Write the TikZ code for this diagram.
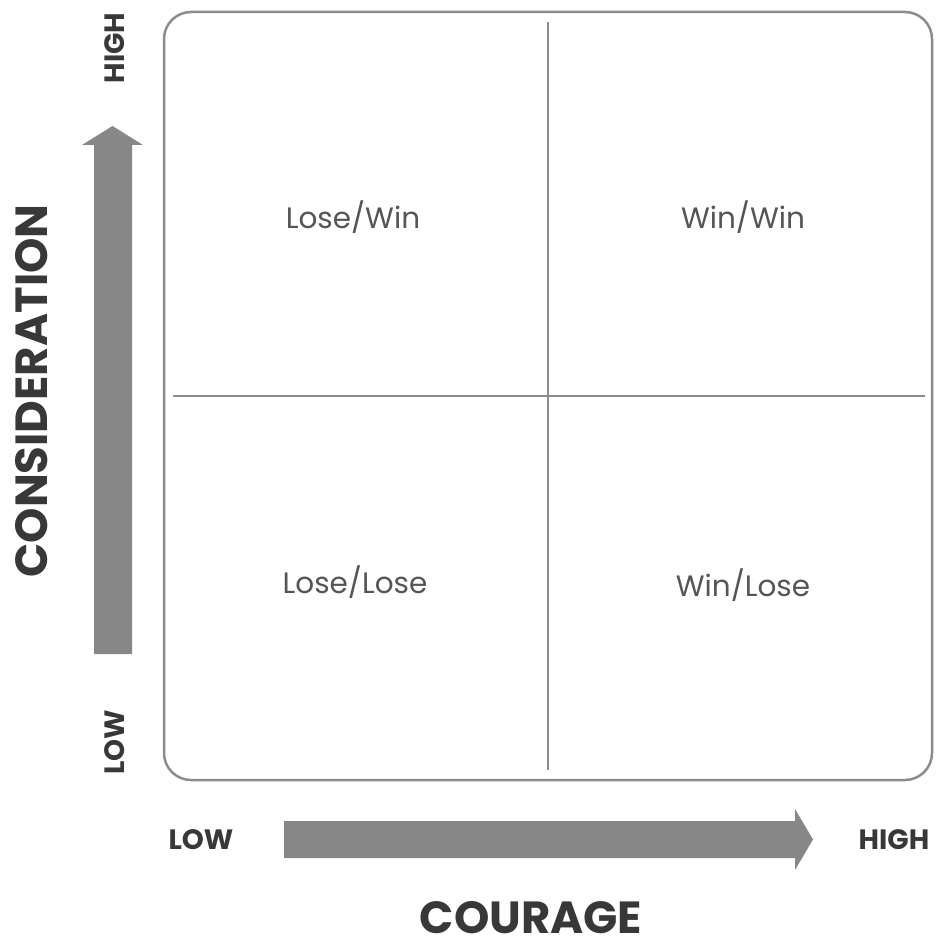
\documentclass[tikz,border=0pt]{standalone}
\usepackage{fontspec}
\setmainfont{Poppins}
\definecolor{linegray}{HTML}{8C8C8C}
\definecolor{arrowgray}{HTML}{878787}
\definecolor{axistext}{HTML}{383838}
\definecolor{quadtext}{HTML}{555555}
\begin{document}
\begin{tikzpicture}[x=1pt,y=-1pt,
  frame/.style={draw=linegray, line width=2.5pt, rounded corners=27pt},
  divider/.style={draw=linegray, line width=2pt},
  bigarrow/.style={fill=arrowgray, draw=none},
  quad/.style={text=quadtext, font=\fontsize{29.5}{32}\selectfont, inner sep=0pt},
  axislabel/.style={text=axistext, font=\bfseries\fontsize{45}{48}\selectfont, inner sep=0pt},
  ticklabel/.style={text=axistext, font=\bfseries\fontsize{28}{30}\selectfont, inner sep=0pt}]
\useasboundingbox (0,0) rectangle (935,941);
% frame
\draw[frame] (164,12) rectangle (932,780);
% dividers
\coordinate (vtop) at (548,22);
\coordinate (vbot) at (548,770);
\coordinate (hleft) at (173,396);
\coordinate (hright) at (925,396);
\draw[divider] (vtop) -- (vbot);
\draw[divider] (hleft) -- (hright);
% quadrant labels
\node[quad] (lw) at (353,217) {Lose/Win};
\node[quad] (ww) at (743,217) {Win/Win};
\node[quad] (ll) at (355,582) {Lose/Lose};
\node[quad] (wl) at (743,585) {Win/Lose};
% vertical arrow
\fill[bigarrow] (94,654) -- (94,145) -- (82,145) -- (112.5,126) -- (143,145) -- (132,145) -- (132,654) -- cycle;
% horizontal arrow
\fill[bigarrow] (284,821) -- (795,821) -- (795,809) -- (813,839.5) -- (795,870) -- (795,858) -- (284,858) -- cycle;
% axis labels
\node[axislabel, rotate=90] (cons) at (32,391) {CONSIDERATION};
\node[axislabel, text height=31pt, text depth=0pt] (cour) at (531,918) {COURAGE};
\node[ticklabel, rotate=90] (vhigh) at (115,48) {HIGH};
\node[ticklabel, rotate=90] (vlow) at (115,742) {LOW};
\node[ticklabel] (hlow) at (201,840) {LOW};
\node[ticklabel] (hhigh) at (894,840) {HIGH};
\end{tikzpicture}
\end{document}
